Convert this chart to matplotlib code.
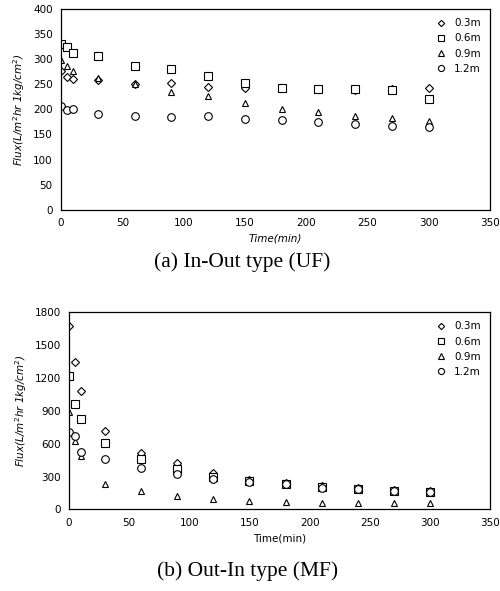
import matplotlib.pyplot as plt

# time points (min)
t = [0, 5, 10, 30, 60, 90, 120, 150, 180, 210, 240, 270, 300]
labels = ['0.3m', '0.6m', '0.9m', '1.2m']
markers = ['D', 's', '^', 'o']

# (a) In-Out type (UF)
uf_03 = [277, 265, 261, 258, 251, 252, 245, 242, 242, 240, 239, 240, 243]
uf_06 = [331, 325, 312, 307, 287, 281, 266, 253, 243, 241, 240, 239, 221]
uf_09 = [299, 287, 277, 263, 251, 234, 226, 212, 201, 195, 186, 182, 177]
uf_12 = [206, 198, 200, 191, 187, 184, 186, 180, 178, 174, 170, 167, 164]

# (b) Out-In type (MF)
mf_03 = [1672, 1342, 1083, 717, 512, 427, 329, 270, 245, 215, 195, 178, 165]
mf_06 = [1214, 961, 824, 604, 458, 366, 297, 258, 236, 205, 190, 172, 158]
mf_09 = [885, 625, 488, 229, 168, 122, 98, 78, 65, 62, 62, 60, 58]
mf_12 = [702, 671, 525, 458, 381, 320, 276, 250, 228, 198, 185, 168, 155]

fig = plt.figure(figsize=(5, 5.91), dpi=100)
ax1 = fig.add_axes([0.122, 0.645, 0.858, 0.340])
ax2 = fig.add_axes([0.138, 0.138, 0.842, 0.334])

sizes = [4, 5.5, 5, 5.5]

def draw(ax, series):
    for y, m, lab, ms in zip(series, markers, labels, sizes):
        ax.plot(t, y, linestyle='none', marker=m, markersize=ms, markerfacecolor='white',
                markeredgecolor='black', markeredgewidth=0.8, label=lab)
    ax.set_xlim(0, 350)
    ax.tick_params(length=0, labelsize=7.5, pad=6)
    for s in ax.spines.values():
        s.set_linewidth(0.9)
    ax.legend(loc='upper right', frameon=False, fontsize=7.5, handletextpad=0.6,
              labelspacing=0.5, borderaxespad=0.5, handlelength=1.2, markerscale=0.8)

draw(ax1, [uf_03, uf_06, uf_09, uf_12])
ax1.set_ylim(0, 400)
ax1.set_yticks(range(0, 401, 50))
ax1.set_xticks(range(0, 351, 50))
ax1.set_xlabel('Time(min)', fontsize=7.5, fontstyle='italic', labelpad=4)
ax1.set_ylabel(r'Flux(L/m$^2$hr 1kg/cm$^2$)', fontsize=7.5, fontstyle='italic', labelpad=4)

draw(ax2, [mf_03, mf_06, mf_09, mf_12])
ax2.set_ylim(0, 1800)
ax2.set_yticks(range(0, 1801, 300))
ax2.set_xticks(range(0, 351, 50))
ax2.set_xlabel('Time(min)', fontsize=7.5, labelpad=4)
ax2.set_ylabel(r'Flux(L/m$^2$hr 1kg/cm$^2$)', fontsize=7.5, fontstyle='italic', labelpad=4)

fig.text(0.485, 1 - 262 / 591, '(a) In-Out type (UF)', ha='center', va='center',
         family='Liberation Serif', fontsize=15.5)
fig.text(0.495, 1 - 571 / 591, '(b) Out-In type (MF)', ha='center', va='center',
         family='Liberation Serif', fontsize=15.5)

fig.savefig('out.png', dpi=100)
